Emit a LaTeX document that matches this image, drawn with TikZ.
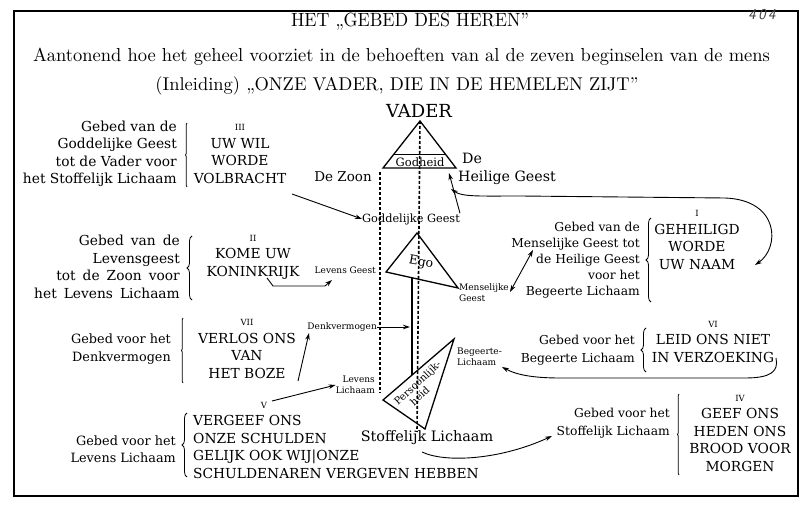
\documentclass[tikz,border=0pt]{standalone}
\usepackage{fontspec}
\newfontfamily\dvs{DejaVu Serif}
\usetikzlibrary{arrows.meta,decorations.pathreplacing}
\newcommand{\numfont}{\fontsize{8.5}{17.5}\selectfont}
\newcommand{\widesp}{\spaceskip 7pt\relax}
\begin{document}
\begin{tikzpicture}[x=1pt,y=-1pt,
  body/.style={font=\dvs\fontsize{13.8}{17.5}\selectfont, inner sep=0pt},
  midtxt/.style={font=\dvs\fontsize{12.3}{17.5}\selectfont, inner sep=0pt},
  smalltxt/.style={font=\dvs\fontsize{9}{11}\selectfont, inner sep=0pt},
  arr/.style={-{Stealth[length=7pt,width=4.5pt]}, line width=0.9pt},
  arrtwo/.style={{Stealth[length=7pt,width=4.5pt]}-{Stealth[length=7pt,width=4.5pt]}, line width=0.9pt},
  brc/.style={decorate, decoration={brace,amplitude=5pt}, line width=0.8pt},
  barbrc/.style={decorate, decoration={brace,amplitude=1.5pt}, line width=0.8pt},
  tri/.style={line width=1.3pt, line join=miter},
  dashline/.style={dash pattern=on 3pt off 2pt, line width=1.1pt}]
\useasboundingbox (0,0) rectangle (803,510);
\fill[white] (0,0) rectangle (803,510);
\draw[line width=1.6pt] (14,11) rectangle (798,496);

% titles
\node[inner sep=0] (t1) at (410,22) {\resizebox{238pt}{13.5pt}{HET „GEBED DES HEREN”}};
\node[inner sep=0] (t2) at (401.5,57) {\resizebox{737pt}{13.5pt}{Aantonend hoe het geheel voorziet in de behoeften van al de zeven beginselen van de mens}};
\node[inner sep=0] (t3) at (397,86) {\resizebox{483pt}{!}{(Inleiding) „ONZE VADER, DIE IN DE HEMELEN ZIJT”}};
\node[inner sep=0, font=\fontsize{15}{15}\sffamily\itshape, text=black!75] (pg) at (762,15) {4\,0\,4};

% block III
\node[body, align=right, anchor=east] (l3) at (177,154) {Gebed van de\\Goddelijke Geest\\tot de Vader voor\\het Stoffelijk Lichaam};
\node[body, align=center] (r3) at (240,154) {{\numfont III}\\UW WIL\\WORDE\\VOLBRACHT};
\draw[barbrc] (187,187) -- (187,123);

% block II
\node[body, align=right, anchor=east, font=\dvs\fontsize{13.8}{17.5}\selectfont\widesp] (l2) at (180,267) {Gebed van de\\Levensgeest\\tot de Zoon voor\\het Levens Lichaam};
\node[body, align=center] (r2) at (253,257) {{\numfont II}\\KOME UW\\KONINKRIJK};
\draw[brc] (192,300) -- (192,236);

% block VII
\node[midtxt, align=right, anchor=east, font=\dvs\fontsize{12.8}{17.5}\selectfont] (l7) at (171,349) {Gebed voor het\\Denkvermogen};
\node[body, align=center] (r7) at (247,349) {{\numfont VII}\\VERLOS ONS\\VAN\\HET BOZE};
\draw[barbrc] (183,383) -- (183,318);

% block V
\node[midtxt, align=right, anchor=east, font=\dvs\fontsize{12.8}{17.5}\selectfont] (l5) at (176,449) {Gebed voor het\\Levens Lichaam};
\node[body, align=left, anchor=west] (r5) at (193,447) {VERGEEF ONS\\ONZE SCHULDEN\\GELIJK OOK WIJ|ONZE\\SCHULDENAREN VERGEVEN HEBBEN};
\node[body] (v5) at (264,405) {\numfont V};
\draw[brc] (187,477) -- (187,413);

% block IV
\node[midtxt, align=right, anchor=east] (l4) at (670,423) {Gebed voor het\\Stoffelijk Lichaam};
\node[body, align=center] (r4) at (740,433) {{\numfont IV}\\GEEF ONS\\HEDEN ONS\\BROOD VOOR\\MORGEN};
\draw[barbrc] (679,475) -- (679,394);

% block VI
\node[midtxt, align=right, anchor=east] (l6) at (635,350) {Gebed voor het\\Begeerte Lichaam};
\node[body, align=center] (r6) at (713,342) {{\numfont VI}\\LEID ONS NIET\\IN VERZOEKING};
\draw[brc] (646,372) -- (646,328);

% block I
\node[midtxt, align=right, anchor=east, font=\dvs\fontsize{12.3}{16}\selectfont] (l1) at (640,260) {Gebed van de\\Menselijke Geest tot\\de Heilige Geest\\voor het\\Begeerte Lichaam};
\node[body, align=center] (r1) at (697,240) {{\numfont I}\\GEHEILIGD\\WORDE\\UW NAAM};
\draw[brc] (651,302) -- (651,218);

% central figure
\node[inner sep=0, font=\dvs\fontsize{18}{20}\selectfont] (vader) at (419,111) {VADER};
\coordinate (ta) at (420,121);
\coordinate (tl) at (383,168);
\coordinate (tr) at (456,168);
\draw[tri] (ta) -- (tl) -- (tr) -- cycle;
\draw[line width=1pt] (394,155) -- (446,155);
\node[inner sep=0, font=\dvs\fontsize{11.5}{13}\selectfont] (godh) at (420,162) {Godheid};
\node[inner sep=0, align=left, anchor=west, font=\dvs\fontsize{14.2}{18}\selectfont] (hg) at (458,169) {\hspace*{4pt}De\\Heilige Geest};
\node[inner sep=0, font=\dvs\fontsize{13.5}{15}\selectfont] (zoon) at (343,177) {De Zoon};
\node[inner sep=0, font=\dvs\fontsize{11.3}{13}\selectfont] (gg) at (411,219) {Goddelijke Geest};

\coordinate (ea) at (417,233);
\coordinate (el) at (386,272);
\coordinate (er) at (458,288);
\draw[tri] (ea) -- (el) -- (er) -- cycle;
\node[inner sep=0, font=\dvs\fontsize{12.5}{14}\selectfont, rotate=-10] (ego) at (421,263) {Ego};
\node[smalltxt, anchor=east] (lg) at (376,270) {Levens Geest};
\node[smalltxt, align=left, anchor=west] (mg) at (459,293) {Menselijke\\Geest};
\node[smalltxt, anchor=east] (dk) at (377,327) {Denkvermogen};
\node[smalltxt, align=left, anchor=west] (bg) at (457,357) {Begeerte-\\Lichaam};
\node[smalltxt, align=right, anchor=east] (ll) at (375,385) {Levens\\Lichaam};

\coordinate (pa) at (454,339);
\coordinate (pl) at (383,400);
\coordinate (pb) at (425,429);
\draw[tri] (pa) -- (pl) -- (pb) -- cycle;
\node[inner sep=0, align=center, rotate=43, font=\dvs\fontsize{10}{11}\selectfont] (pers) at (421,387) {Persoonlijk-\\heid\hspace*{14pt}};
\node[inner sep=0, font=\dvs\fontsize{14.4}{18}\selectfont] (stof) at (427,438) {Stoffelijk Lichaam};

% vertical lines
\coordinate (dlt) at (380,172);
\coordinate (dlb) at (380,393);
\coordinate (dcb) at (417,432);
\coordinate (tkt) at (412,278);
\coordinate (tkb) at (412,375);
\draw[dashline] (dlt) -- (dlb);
\draw[dashline, line width=1.6pt] (ta) -- (dcb);
\draw[line width=2.6pt] (tkt) -- (tkb);

% connectors
\coordinate (a1s) at (292,194);
\draw[arr] (a1s) -- (gg.west);
\coordinate (hgc) at (449,173);
\draw[arr] (gg.north east) -- (hgc);
\coordinate (c3a) at (451,189);
\coordinate (c3b) at (755,265);
\draw[arrtwo] (c3a) .. controls (462,197) and (480,196) .. (520,196) -- (725,198) .. controls (780,200) and (780,248) .. (c3b);
\coordinate (a4s) at (510,292);
\coordinate (a4e) at (533,250);
\draw[arrtwo] (a4s) -- (a4e);
\coordinate (a5s) at (267,278);
\coordinate (a5e) at (332,280);
\draw[arr] (a5s) -- (273,286) -- (325,286) -- (a5e);
\coordinate (a6s) at (298,381);
\coordinate (a6e) at (309,333);
\draw[arr] (a6s) -- (a6e);
\coordinate (a7e) at (410,327);
\draw[arr] (dk.east) -- (a7e);
\coordinate (a8s) at (272,401);
\draw[arr] (a8s) -- (ll.west);
\coordinate (a9s) at (422,452);
\coordinate (a9e) at (552,436);
\draw[arr] (a9s) .. controls (445,463) and (500,460) .. (a9e);
\coordinate (a10s) at (776,358);
\coordinate (a10e) at (502,367);
\draw[arr] (a10s) .. controls (779,372) and (770,378) .. (745,378) -- (560,378) .. controls (530,378) and (515,374) .. (a10e);
\end{tikzpicture}
\end{document}
